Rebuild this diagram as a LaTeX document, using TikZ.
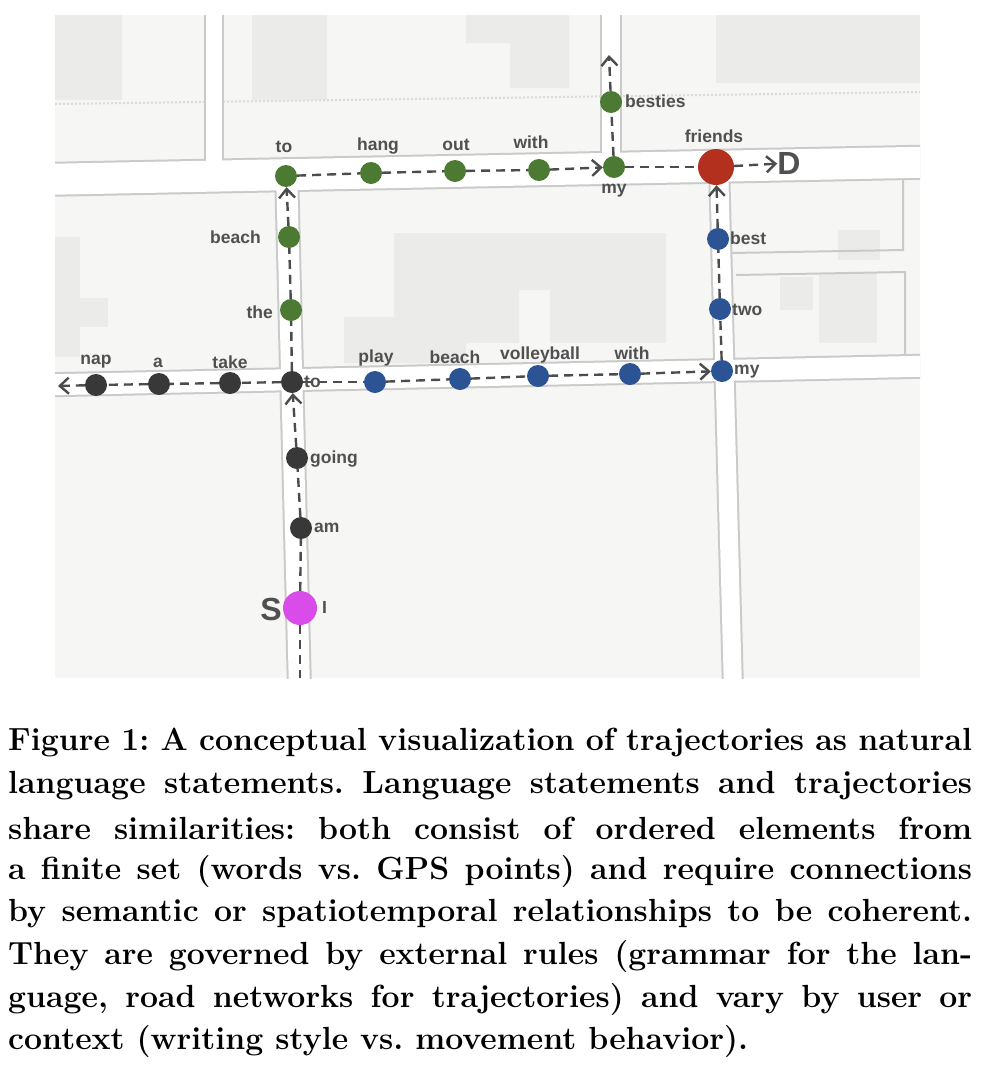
\documentclass[tikz,border=0pt]{standalone}
\usepackage{fontspec}
\newfontfamily\lab{Liberation Sans}
\usetikzlibrary{arrows.meta}
\frenchspacing
\definecolor{bg}{HTML}{F6F6F4}
\definecolor{bld}{HTML}{EBEBEA}
\definecolor{edge}{HTML}{CACACA}
\definecolor{gr}{HTML}{4D7A32}
\definecolor{bl}{HTML}{2C5494}
\definecolor{bk}{HTML}{383838}
\definecolor{rd}{HTML}{B3301F}
\definecolor{mg}{HTML}{D94CEA}
\definecolor{txt}{HTML}{505050}
\tikzset{
 pt/.style={circle,inner sep=0pt,minimum size=22pt},
 gpt/.style={pt,fill=gr},
 bpt/.style={pt,fill=bl},
 kpt/.style={pt,fill=bk},
 lbl/.style={font=\lab\bfseries\fontsize{17.5}{17.5}\selectfont,text=txt,inner sep=1pt},
 big/.style={font=\lab\bfseries\fontsize{32}{32}\selectfont,text=txt,inner sep=0pt},
 link/.style={draw=bk!90,dashed,dash pattern=on 9pt off 6pt,line width=2.4pt},
 arr/.style={link,-{Straight Barb[length=9pt,width=16pt,line width=2.4pt]}},
 roadE/.style={draw=edge,line cap=butt},
 roadW/.style={draw=white,line cap=butt},
 captxt/.style={anchor=west,inner sep=0pt,font=\bfseries\fontsize{32}{32}\selectfont}
}
\begin{document}
\begin{tikzpicture}[x=1pt,y=-1pt]
\useasboundingbox (0,0) rectangle (982,1082);
\fill[bg] (55,15) rectangle (920,678);
\begin{scope}
\clip (55,15) rectangle (920,678);
% buildings
\fill[bld] (55,15) rectangle (122,100);
\fill[bld] (252,15) rectangle (327,100);
\fill[bld] (466,15) -- (569,15) -- (569,88) -- (510,88) -- (510,43) -- (466,43) -- cycle;
\fill[bld] (716,15) rectangle (920,83);
\fill[bld] (55,237) rectangle (80,357);
\fill[bld] (80,298) rectangle (108,327);
\fill[bld] (394,233) -- (666,233) -- (666,343) -- (550,343) -- (550,290) -- (519,290) -- (519,343) -- (466,343) -- (466,363) -- (344,363) -- (344,317) -- (394,317) -- cycle;
\fill[bld] (838,230) rectangle (880,260);
\fill[bld] (780,277) rectangle (813,310);
\fill[bld] (819,273) rectangle (877,343);
\draw[edge!70,line width=2pt,dotted] (55,104) -- (920,92);
% roads
\foreach \s/\w in {roadE/0,roadW/4}{
 \draw[\s,line width=35pt-\w pt] (40,179.5) -- (935,162);
 \draw[\s,line width=25pt-\w pt] (40,385) -- (935,366);
 \draw[\s,line width=25pt-\w pt] (286.5,170) -- (299.5,690);
 \draw[\s,line width=22pt-\w pt] (719,165) -- (733,690);
 \draw[\s,line width=20pt-\w pt] (214,0) -- (214,170);
 \draw[\s,line width=22pt-\w pt] (611,0) -- (611,165);
}
\draw[edge,line width=2pt] (731,253) -- (903,250) -- (903,180);
\draw[edge,line width=2pt] (736,275) -- (905,272) -- (905,356);
\end{scope}
% nodes
\node[pt,fill=mg,minimum size=34pt] (s) at (300,608) {};
\node[kpt] (am) at (301,528) {};
\node[kpt] (going) at (297,458) {};
\node[kpt] (to1) at (292,382) {};
\node[kpt] (take) at (230,383) {};
\node[kpt] (a) at (159,384) {};
\node[kpt] (nap) at (96,385) {};
\coordinate (napE) at (58,386);
\coordinate (bot) at (300,678);
\node[bpt] (play) at (375,382) {};
\node[bpt] (beach2) at (460,379) {};
\node[bpt] (volley) at (538,376) {};
\node[bpt] (with2) at (630,374) {};
\node[bpt] (my2) at (722,371) {};
\node[bpt] (two) at (720,309) {};
\node[bpt] (best) at (718,239) {};
\node[pt,fill=rd,minimum size=36pt] (fr) at (716,167) {};
\node[gpt] (the) at (291,310) {};
\node[gpt] (beach1) at (289,237) {};
\node[gpt] (to2) at (286,176) {};
\node[gpt] (hang) at (371,173) {};
\node[gpt] (out) at (455,171) {};
\node[gpt] (with1) at (539,170) {};
\node[gpt] (my1) at (614,167) {};
\node[gpt] (bes) at (611,102) {};
\coordinate (besE) at (609,55);
\node[big] (D) at (789,163) {D};
\node[big] (S) at (271,609) {S};
% links
\draw[link] (s) -- (bot);
\draw[link] (s) -- (am); \draw[link] (am) -- (going); \draw[arr] (going) -- (to1);
\draw[link] (to1) -- (take); \draw[link] (take) -- (a); \draw[link] (a) -- (nap); \draw[arr] (nap) -- (napE);
\draw[link] (to1) -- (play); \draw[link] (play) -- (beach2); \draw[link] (beach2) -- (volley); \draw[link] (volley) -- (with2); \draw[arr] (with2) -- (my2);
\draw[link] (my2) -- (two); \draw[link] (two) -- (best); \draw[arr] (best) -- (fr);
\draw[arr] (fr) -- (D);
\draw[link] (to1) -- (the); \draw[link] (the) -- (beach1); \draw[arr] (beach1) -- (to2);
\draw[link] (to2) -- (hang); \draw[link] (hang) -- (out); \draw[link] (out) -- (with1); \draw[arr] (with1) -- (my1);
\draw[link] (my1) -- (fr); \draw[link] (my1) -- (bes); \draw[arr] (bes) -- (besE);
% labels
\node[lbl] at (284,147) {to};
\node[lbl] at (378,146) {hang};
\node[lbl] at (456,145) {out};
\node[lbl] at (531,142) {with};
\node[lbl] at (614,191) {my};
\node[lbl,anchor=west] at (624,101) {besties};
\node[lbl] at (714,136) {friends};
\node[lbl,anchor=east] at (262,237) {beach};
\node[lbl,anchor=east] at (274,312) {the};
\node[lbl] at (96,362) {nap};
\node[lbl] at (158,363) {a};
\node[lbl] at (230,362) {take};
\node[lbl,anchor=west] at (303,382) {to};
\node[lbl] at (376,358) {play};
\node[lbl] at (455,357) {beach};
\node[lbl] at (540,355) {volleyball};
\node[lbl] at (632,353) {with};
\node[lbl,anchor=west] at (733,372) {my};
\node[lbl,anchor=west] at (731,310) {two};
\node[lbl,anchor=west] at (729,238) {best};
\node[lbl,anchor=west] at (309,459) {going};
\node[lbl,anchor=west] at (313,528) {am};
\node[lbl,anchor=west] at (321,607) {I};
% caption
\node[captxt] (c1) at (8,743) {\makebox[964pt][s]{Figure 1: A conceptual visualization of trajectories as natural}};
\node[captxt] (c2) at (8,785.7) {\makebox[964pt][s]{language statements. Language statements and trajectories}};
\node[captxt] (c3) at (8,828.4) {\makebox[964pt][s]{share similarities: both consist of ordered elements from}};
\node[captxt] (c4) at (8,871.1) {\makebox[964pt][s]{a finite set (words vs. GPS points) and require connections}};
\node[captxt] (c5) at (8,913.8) {\makebox[964pt][s]{by semantic or spatiotemporal relationships to be coherent.}};
\node[captxt] (c6) at (8,956.5) {\makebox[964pt][s]{They are governed by external rules (grammar for the lan-}};
\node[captxt] (c7) at (8,999.2) {\makebox[964pt][s]{guage, road networks for trajectories) and vary by user or}};
\node[captxt] (c8) at (8,1041.9) {context (writing style vs. movement behavior).};
\end{tikzpicture}
\end{document}
